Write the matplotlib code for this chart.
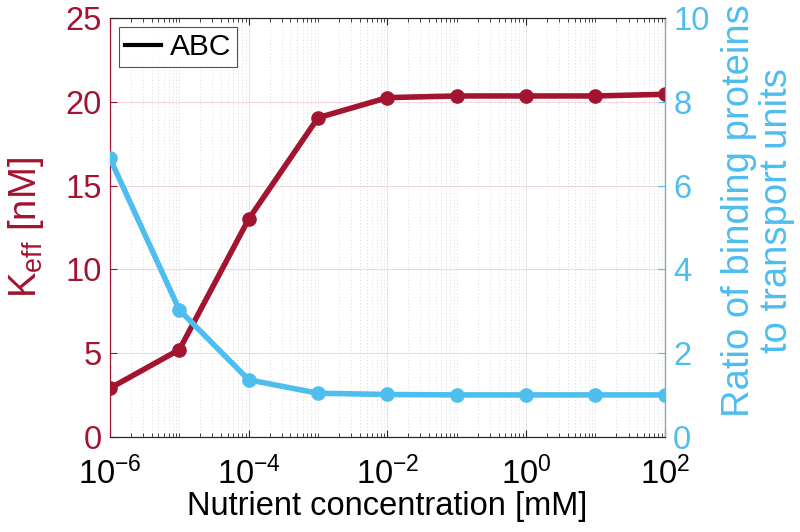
import numpy as np
import matplotlib
matplotlib.use("Agg")
import matplotlib.pyplot as plt
from matplotlib.lines import Line2D
from matplotlib.ticker import LogLocator, FixedLocator, NullFormatter

plt.rcParams['font.family'] = ['Liberation Sans', 'DejaVu Sans']
plt.rcParams['mathtext.fontset'] = 'custom'
plt.rcParams['mathtext.rm'] = 'Liberation Sans'
plt.rcParams['mathtext.it'] = 'Liberation Sans:italic'

# data
conc = [1e-6, 1e-5, 1e-4, 1e-3, 1e-2, 1e-1, 1e0, 1e1, 1e2]
keff = [2.9, 5.2, 13.0, 19.05, 20.25, 20.35, 20.35, 20.35, 20.45]
ratio = [6.65, 3.03, 1.36, 1.04, 1.01, 1.0, 1.0, 1.0, 1.0]
xticks = [1e-6, 1e-4, 1e-2, 1e0, 1e2]

red = "#A2142F"
blue = "#4DBEEE"
dark = "#262626"
fs = 23.5
fsy = 27.5

fig = plt.figure(figsize=(8, 5.32), dpi=100)
ax = fig.add_axes([0.1375, 0.179, 0.6935, 0.787])
ax2 = ax.twinx()

ax.plot(conc, keff, "-o", color=red, lw=4, ms=9.5, zorder=3)
ax2.plot(conc, ratio, "-o", color=blue, lw=4, ms=9.5, zorder=3)

ax.set_xscale("log")
ax.set_xlim(1e-6, 1e2)
ax.set_ylim(0, 25)
ax2.set_ylim(0, 10)
ax.set_yticks([0, 5, 10, 15, 20, 25])
ax2.set_yticks([0, 2, 4, 6, 8, 10])
ax.xaxis.set_major_locator(FixedLocator(xticks))
ax.xaxis.set_minor_locator(LogLocator(base=10, subs=np.arange(1, 10), numticks=100))
ax.xaxis.set_minor_formatter(NullFormatter())

# grid
ax.grid(True, which="major", axis="x", color="#e6e6e6", lw=0.8, ls="-")
ax.grid(True, which="major", axis="y", color="#f3d6dc", lw=0.8, ls="-")
ax.grid(True, which="minor", axis="x", color="#cccccc", lw=0.6, ls=(0, (1, 3)))
ax.set_axisbelow(True)

ax.tick_params(axis="x", which="both", direction="in", top=True, colors=dark,
               labelsize=fs, pad=14)
ax.tick_params(axis="x", which="major", length=5)
ax.tick_params(axis="x", which="minor", length=3)
ax.tick_params(axis="y", direction="in", colors=red, labelsize=fs, length=5, pad=6)
ax2.tick_params(axis="y", direction="in", colors=blue, labelsize=fs, length=5, pad=6)
ax.tick_params(axis="x", labelcolor="black")

ax.spines["left"].set_color(red)
ax2.spines["left"].set_color(red)
ax2.spines["right"].set_color(blue)
for a in (ax, ax2):
    a.spines["top"].set_color(dark)
    a.spines["bottom"].set_color(dark)
    for s in a.spines.values():
        s.set_linewidth(0.8)

ax.set_xlabel("Nutrient concentration [mM]", fontsize=fs, color="black", labelpad=0)
ax.set_ylabel(r"K$_{\mathregular{eff}}$ [nM]", fontsize=fsy, color=red, labelpad=14)
ax2.set_ylabel("Ratio of binding proteins\nto transport units", fontsize=fsy,
               color=blue, labelpad=8, linespacing=1.1)
ax2.yaxis.label.set_y(0.54)

leg = ax2.legend([Line2D([], [], color="black", lw=3)], ["ABC"], loc="upper left",
                 fontsize=21.5, frameon=True, fancybox=False, handlelength=1.2,
                 handletextpad=0.3, borderpad=0.2, borderaxespad=0.3)
leg.get_frame().set_edgecolor(dark)
leg.get_frame().set_linewidth(0.8)

fig.savefig("out.png", dpi=100)
